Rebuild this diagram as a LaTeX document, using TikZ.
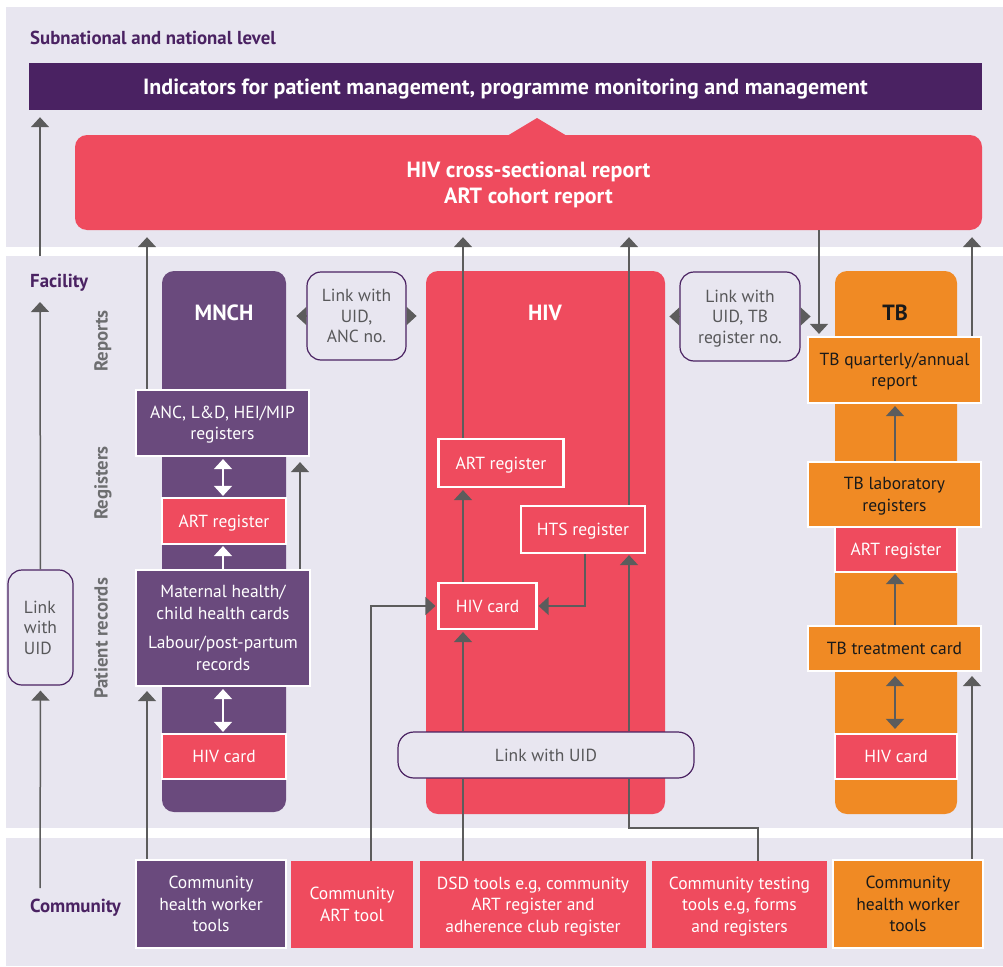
\documentclass[tikz,border=0pt]{standalone}
\usepackage{fontspec}
\setmainfont{PT Sans}
\usetikzlibrary{arrows.meta}
\definecolor{bgl}{HTML}{E8E6F0}
\definecolor{tpurple}{HTML}{4A2262}
\definecolor{mnchc}{HTML}{6A4A7D}
\definecolor{hred}{HTML}{EF4B5E}
\definecolor{tbor}{HTML}{F08A24}
\definecolor{arrgray}{HTML}{5C5C5C}
\definecolor{ltext}{HTML}{58585A}
\definecolor{lgray}{HTML}{6D6E70}
\definecolor{tblack}{HTML}{1A1A1A}
\begin{document}
\begin{tikzpicture}[x=1pt,y=-1pt,
  every node/.style={font=\fontsize{17.5}{21.5}\selectfont, inner sep=0pt, align=center, text depth=0pt},
  tip/.tip={Triangle[length=10pt,width=18pt]},
  conn/.style={draw=arrgray, line width=1.5pt},
  arr/.style={conn, -tip},
  darr/.style={conn, tip-tip},
  warr/.style={draw=white, line width=1.5pt, tip-tip},
  wuarr/.style={draw=white, line width=1.5pt, -tip},
  lvltext/.style={font=\bfseries\fontsize{18.8}{22}\selectfont, text=tpurple, anchor=base west},
  rotlab/.style={font=\bfseries\fontsize{18.8}{22}\selectfont, text=lgray, rotate=90, anchor=base},
  colbox/.style={rounded corners=12pt},
  hdr/.style={font=\bfseries\fontsize{22}{26}\selectfont},
  lnk/.style={draw=tpurple, line width=1.2pt, fill=bgl, rounded corners=14pt, text=ltext, font=\fontsize{17.5}{20.5}\selectfont},
  wb/.style={draw=white, line width=2.2pt, text=white},
  ob/.style={draw=white, line width=2.2pt, fill=tbor, text=tblack},
  cb/.style={text=white, minimum height=87pt}
]
\useasboundingbox (0,0) rectangle (1003,966);
\fill[white] (0,0) rectangle (1003,966);
% bands
\fill[bgl] (6,7) rectangle (1003,247);
\fill[bgl] (6,256) rectangle (1003,828);
\fill[bgl] (6,838) rectangle (1003,966);

% helper x positions
\coordinate (cA) at (40,0);
\coordinate (cB) at (147,0);
\coordinate (cC) at (463,0);
\coordinate (cD) at (629,0);
\coordinate (cE) at (819,0);
\coordinate (cF) at (972,0);
\coordinate (cG) at (300,0);
\coordinate (cH) at (585,0);
\coordinate (cI) at (371,0);
\coordinate (cJ) at (758,0);
\coordinate (cK) at (223,0);
\coordinate (cL) at (895,0);
\coordinate (topstart) at (40,256);
\coordinate (factip) at (40,302);
\coordinate (commstart) at (40,888);
\coordinate (bendT) at (629,828);

% top level
\node[lvltext] (lvl) at (30,44.3) {Subnational and national level};
\node[fill=tpurple, minimum width=953pt, minimum height=47pt, text=white, font=\bfseries\fontsize{22}{26}\selectfont] (bar) at (505.5,86.5) {Indicators for patient management, programme monitoring and management};
\fill[hred] (507,136) -- (537,118) -- (567,136) -- cycle;
\node[fill=hred, colbox, minimum width=907pt, minimum height=95pt, text=white, font=\bfseries\fontsize{22}{26}\selectfont] (rep) at (528.5,182.5) {HIV cross-sectional report\\ART cohort report};

% facility labels
\node[lvltext] (fac) at (30,287) {Facility};
\node[lvltext] (comm) at (30,912) {Community};
\node[rotlab] (rpt) at (107.5,341) {Reports};
\node[rotlab] (rgs) at (107.5,483) {Registers};
\node[rotlab] (prc) at (107.5,638.5) {Patient records};

% columns
\node[fill=mnchc, colbox, minimum width=124pt, minimum height=541pt] (mnch) at (224,541.5) {};
\node[fill=hred, colbox, minimum width=239pt, minimum height=543pt] (hiv) at (545.5,542.5) {};
\node[fill=tbor, colbox, minimum width=122pt, minimum height=543pt] (tb) at (896,542.5) {};
\node[hdr, text=white] (mnchh) at (224,313) {MNCH};
\node[hdr, text=white] (hivh) at (545,313) {HIV};
\node[hdr, text=tblack] (tbh) at (895,313) {TB};

% link boxes
\node[lnk, minimum width=99pt, minimum height=88pt] (l1) at (356.5,316) {Link with\\UID,\\ANC no.};
\node[lnk, minimum width=120pt, minimum height=89pt] (l2) at (740,316.5) {Link with\\UID, TB\\register no.};
\node[lnk, minimum width=65pt, minimum height=115pt, align=left] (lL) at (40.5,627.5) {Link\\with\\UID};

% MNCH boxes
\node[wb, fill=mnchc, minimum width=173pt, minimum height=66pt] (anc) at (222.5,423) {ANC, L\&D, HEI/MIP\\registers};
\node[wb, fill=hred, minimum width=124pt, minimum height=46pt] (artm) at (224,521) {ART register};
\node[wb, fill=mnchc, minimum width=174pt, minimum height=116pt] (mat) at (223,628) {Maternal health/\\child health cards\\[8pt]Labour/post-partum\\records};
\node[wb, fill=hred, minimum width=124pt, minimum height=45pt] (hivm) at (224,756.5) {HIV card};

% HIV boxes
\node[wb, fill=hred, minimum width=125pt, minimum height=48pt] (hivart) at (501,463) {ART register};
\node[wb, fill=hred, minimum width=124pt, minimum height=47pt] (hts) at (583,529.5) {HTS register};
\node[wb, fill=hred, minimum width=98pt, minimum height=46pt] (hivc) at (487.5,606) {HIV card};
\node[lnk, minimum width=296pt, minimum height=46pt, rounded corners=16pt] (lU) at (546,755) {Link with UID};

% TB boxes
\node[ob, minimum width=173pt, minimum height=66pt] (tbrep) at (894.5,370) {TB quarterly/annual\\report};
\node[ob, minimum width=173pt, minimum height=65pt] (tblab) at (894.5,494.5) {TB laboratory\\registers};
\node[wb, fill=hred, minimum width=122pt, minimum height=45pt] (arttb) at (896,549.5) {ART register};
\node[ob, minimum width=173pt, minimum height=45pt] (tbt) at (894.5,648.5) {TB treatment card};
\node[wb, fill=hred, minimum width=122pt, minimum height=45pt] (hivtb) at (896,756.5) {HIV card};

% community boxes
\node[wb, fill=mnchc, minimum width=150pt, minimum height=88pt] (chwp) at (211,904) {Community\\health worker\\tools};
\node[cb, fill=hred, minimum width=122pt] (cart) at (352,904.5) {Community\\ART tool};
\node[cb, fill=hred, minimum width=226pt] (dsd) at (533,904.5) {DSD tools e.g, community\\ART register and\\adherence club register};
\node[cb, fill=hred, minimum width=175pt] (test) at (739.5,904.5) {Community testing\\tools e.g, forms\\and registers};
\node[ob, minimum width=150pt, minimum height=88pt] (chwo) at (908,904) {Community\\health worker\\tools};

% connectors: left spine
\draw[arr, shorten >=7pt] (topstart) -- (topstart |- bar.south);
\draw[arr] (lL.north) -- (factip);
\draw[arr, shorten >=5pt] (commstart) -- (lL.south);

% to report box
\draw[arr, shorten >=7pt] (anc.north -| cB) -- (rep.south -| cB);
\draw[arr, shorten >=7pt] (hivart.north -| cC) -- (rep.south -| cC);
\draw[arr, shorten >=7pt] (hts.north -| cD) -- (rep.south -| cD);
\draw[arr, shorten >=2pt] (rep.south -| cE) -- (tbrep.north -| cE);
\draw[arr, shorten >=7pt] (tbrep.north -| cF) -- (rep.south -| cF);

% link arrowheads
\draw[arr] (l1.west) -- ++(-10,0);
\draw[arr] (l1.east) -- ++(10,0);
\draw[arr] (l2.west) -- ++(-10,0);
\draw[arr] (l2.east) -- ++(10,0);

% MNCH
\draw[warr, shorten <=2pt, shorten >=1pt] (anc.south -| cK) -- (artm.north -| cK);
\draw[wuarr, shorten >=1pt] (mat.north -| cK) -- (artm.south -| cK);
\draw[arr, shorten >=5pt] (mat.north -| cG) -- (anc.south -| cG);
\draw[warr, shorten <=2pt, shorten >=1pt] (mat.south -| cK) -- (hivm.north -| cK);
\draw[arr, shorten >=4pt] (chwp.north -| cB) -- (mat.south -| cB);

% HIV
\draw[conn] (dsd.north -| cC) -- (lU.south -| cC);
\draw[arr, shorten >=2pt] (lU.north -| cC) -- (hivc.south -| cC);
\draw[arr, shorten >=2pt] (hivc.north -| cC) -- (hivart.south -| cC);
\draw[conn] (test.north -| cJ) |- (bendT) -- (lU.south -| cD);
\draw[arr, shorten >=1pt] (lU.north -| cD) -- (hts.south -| cD);
\draw[arr, shorten >=2pt] (cart.north -| cI) |- (hivc.west);
\draw[arr, shorten >=1pt] (hts.south -| cH) |- (hivc.east);

% TB
\draw[arr, shorten >=2pt] (tblab.north -| cL) -- (tbrep.south -| cL);
\draw[arr, shorten >=1pt] (tbt.north -| cL) -- (arttb.south -| cL);
\draw[darr, shorten <=4pt, shorten >=4pt] (tbt.south -| cL) -- (hivtb.north -| cL);
\draw[arr, shorten >=4pt] (chwo.north -| cF) -- (tbt.south -| cF);
\end{tikzpicture}
\end{document}
